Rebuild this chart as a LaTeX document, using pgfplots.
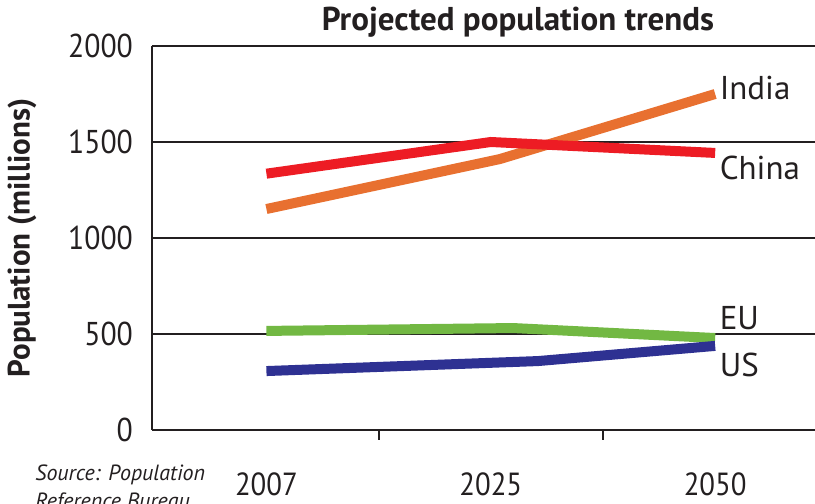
\documentclass[border=0pt]{standalone}
\usepackage{fontspec}
\setmainfont{PT Sans}
\newfontfamily\cond{PT Sans}[FakeStretch=0.9]
\usepackage{pgfplots}
\pgfplotsset{compat=1.18}

\definecolor{txt}{RGB}{35,31,32}
\definecolor{china}{RGB}{237,28,36}
\definecolor{india}{RGB}{232,112,48}
\definecolor{eu}{RGB}{114,184,67}
\definecolor{us}{RGB}{46,49,146}

\begin{document}
\begin{tikzpicture}
\begin{axis}[
  scale only axis,
  width=331.5pt, height=192pt,
  xmin=-0.51, xmax=2.445,
  ymin=0, ymax=2000,
  axis x line*=bottom, axis y line*=left,
  axis line style={line width=1pt, txt},
  clip=false,
  ytick={0,500,1000,1500,2000},
  ymajorgrids, grid style={line width=0.75pt, txt},
  ytick style={draw=none},
  xtick={0,1,2}, xticklabels={2007,2025,2050},
  xtick style={draw=none},
  extra x ticks={0.5,1.5}, extra x tick labels={},
  extra x tick style={xtick style={draw=txt, line width=1pt}, tick align=outside, major tick length=5pt},
  /pgf/number format/assume math mode=true,
  /pgf/number format/1000 sep={},
  yticklabel style={font=\cond\fontsize{16.5}{18}\selectfont, text=txt, xshift=-6pt},
  xticklabel style={font=\cond\fontsize{16}{18}\selectfont, text=txt, anchor=center, yshift=-27pt},
  title={\bfseries Projected population trends},
  title style={font=\fontsize{16.5}{18}\selectfont, text=txt, at={(axis description cs:0.552,1)}, anchor=center, yshift=6pt},
  ylabel={\bfseries Population (millions)},
  ylabel style={font=\fontsize{15.5}{17}\selectfont, text=txt, at={(axis description cs:-0.196,0.5)}, anchor=center},
]
\addplot[india, line width=5pt, line cap=butt] coordinates {(0,1151) (1.04,1411) (2,1750)};
\addplot[china, line width=5pt, line cap=butt] coordinates {(0,1335) (1,1500) (2,1443)};
\addplot[eu, line width=5pt, line cap=butt] coordinates {(0,516) (1.10,531) (2,479)};
\addplot[us, line width=5pt, line cap=butt] coordinates {(0,307) (1.21,359) (2,438)};

\begin{scope}[every node/.style={anchor=west, inner sep=1pt, text=txt, font=\fontsize{16.5}{18}\selectfont}]
\node at (axis cs:2.01,1781) {India};
\node at (axis cs:2.01,1365) {China};
\node at (axis cs:2.01,583) {EU};
\node at (axis cs:2.01,339) {US};
\end{scope}

\node[anchor=base west, inner sep=0pt, text=txt, font=\itshape\fontsize{11}{13}\selectfont]
  at ([xshift=-58.5pt, yshift=-25pt]axis description cs:0,0) {Source: Population};
\node[anchor=base west, inner sep=0pt, text=txt, font=\itshape\fontsize{11}{13}\selectfont]
  at ([xshift=-58.5pt, yshift=-39pt]axis description cs:0,0) {Reference Bureau};
\end{axis}
\pgfresetboundingbox
\path[use as bounding box] (-76pt,-37pt) rectangle (331.5pt,215pt);
\end{tikzpicture}
\end{document}
